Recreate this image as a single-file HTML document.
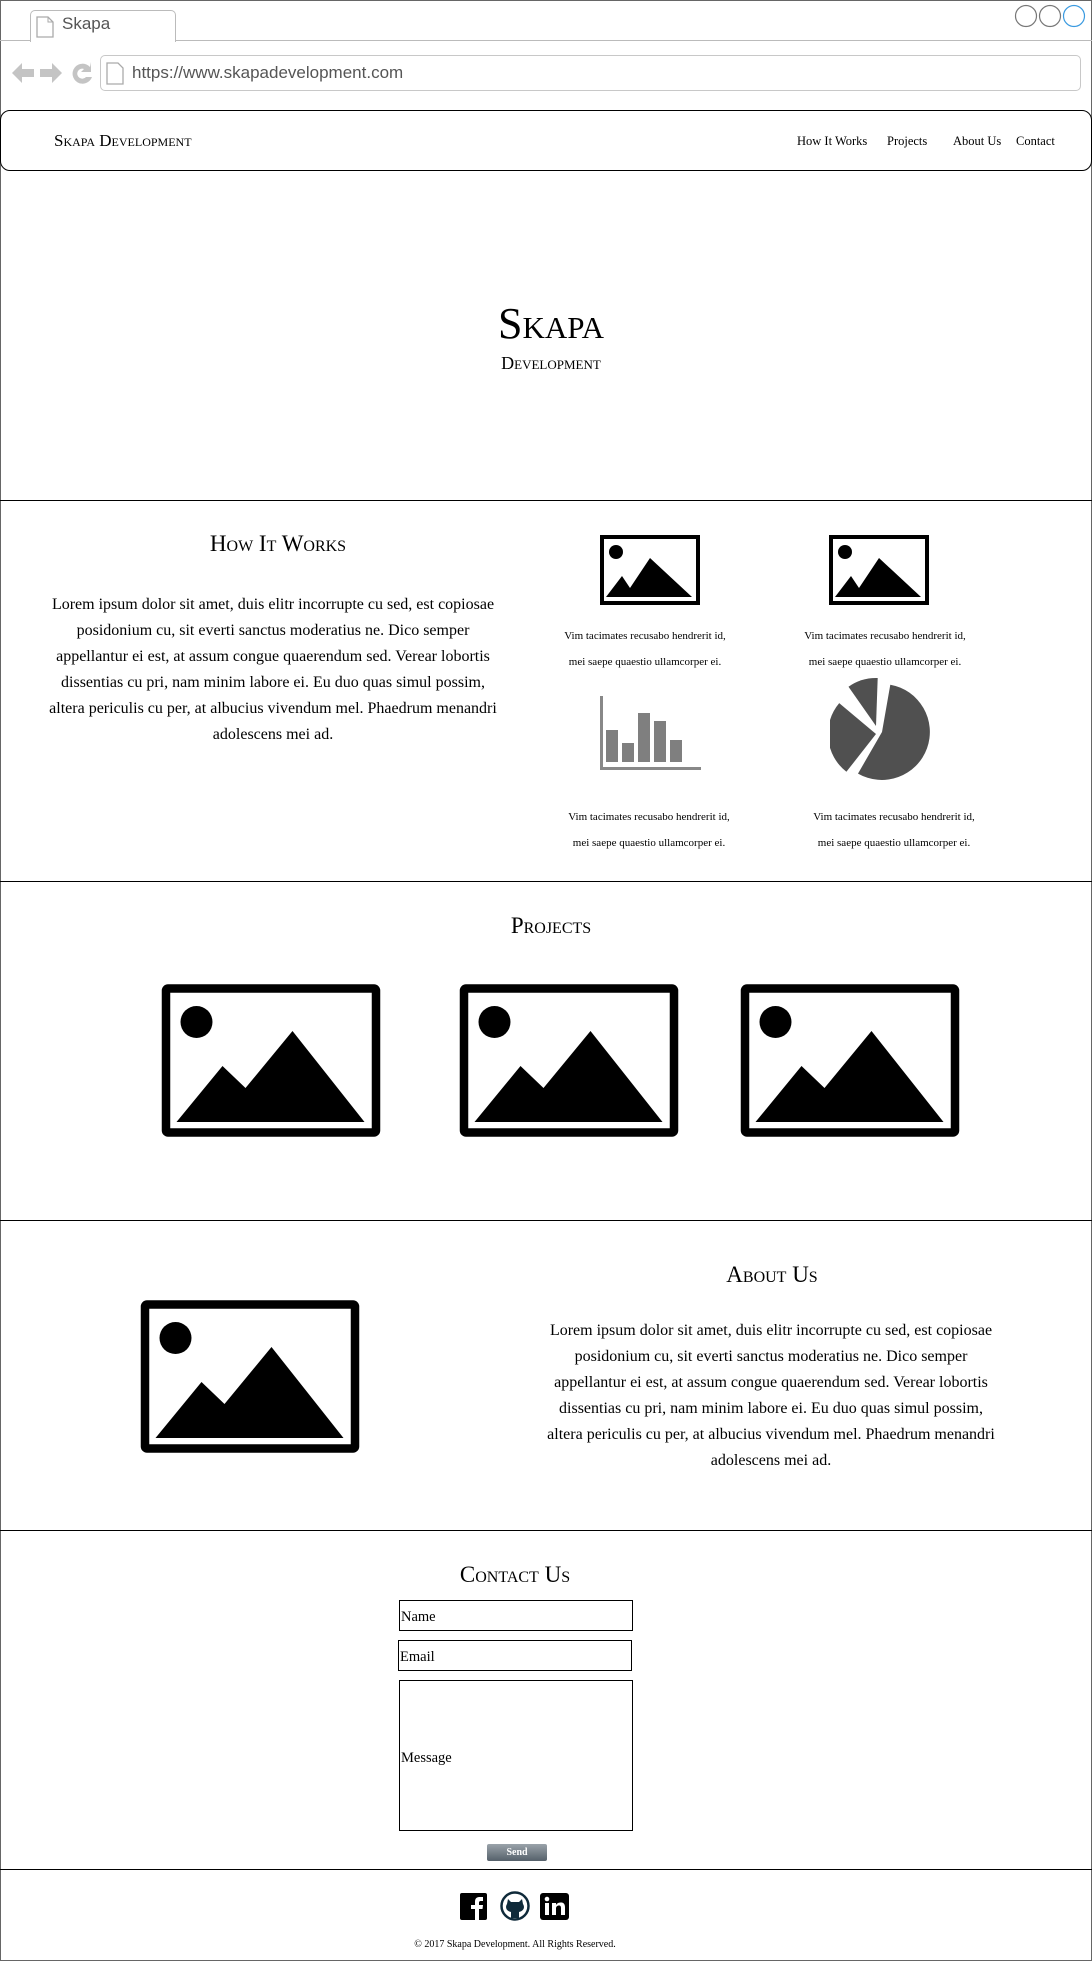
<!DOCTYPE html>
<html><head><meta charset="utf-8"><style>
*{margin:0;padding:0;box-sizing:border-box}
body{width:1092px;height:1961px;position:relative;background:#fff;font-family:"Liberation Serif",serif;color:#000;overflow:hidden}
.a{position:absolute}
.sc{font-variant:small-caps}
.c{text-align:center}
.hl{position:absolute;left:0;width:1092px;height:0;border-top:1.5px solid #000}
.cap{position:absolute;width:240px;text-align:center;font-size:11px;line-height:26px}
.para{position:absolute;text-align:center;font-size:16px;line-height:26px;white-space:nowrap}
</style></head><body>
<div class="a" style="left:0;top:0;width:1092px;height:1961px;border:1.5px solid #666"></div>
<div class="a" style="left:0;top:40px;width:1092px;border-top:1.5px solid #bbb"></div>
<div class="a" style="left:30px;top:10px;width:146px;height:32px;border:1.5px solid #bbb;border-bottom:none;border-radius:5px 5px 0 0;background:#fff"></div>
<svg class="a" style="left:36px;top:16px" width="18" height="22"><path d="M1 1h11l5 5v15H1z" fill="#fff" stroke="#aaa" stroke-width="1.3"/><path d="M12 1v5h5" fill="none" stroke="#aaa"/></svg>
<div class="a" style="left:62px;top:14px;font-family:'Liberation Sans',sans-serif;font-size:17px;color:#555">Skapa</div>
<svg class="a" style="left:1012px;top:3px" width="80" height="26"><circle cx="14" cy="13" r="10.5" fill="none" stroke="#777" stroke-width="1.2"/><circle cx="38" cy="13" r="10.5" fill="none" stroke="#777" stroke-width="1.2"/><circle cx="62" cy="13" r="10.5" fill="none" stroke="#3a9ae0" stroke-width="1.2"/></svg>
<svg class="a" style="left:10px;top:58px" width="85" height="30"><path d="M2 15l10-10v6h12v8H12v6z" fill="#c4c4c4"/><path d="M52 15L42 5v6H30v8h12v6z" fill="#c4c4c4"/><path d="M80 9a10 10 0 1 0 2 10h-6a5 5 0 1 1-2-8l-3 3h10V4z" fill="#c4c4c4"/></svg>
<div class="a" style="left:100px;top:55px;width:981px;height:36px;border:1.5px solid #c8c8c8;border-radius:5px"></div>
<svg class="a" style="left:106px;top:62px" width="18" height="23"><path d="M1 1h11l5 5v16H1z" fill="#fff" stroke="#aaa" stroke-width="1.3"/></svg>
<div class="a" style="left:132px;top:63px;font-family:'Liberation Sans',sans-serif;font-size:17px;color:#555">https://www.skapadevelopment.com</div>
<div class="a" style="left:0;top:110px;width:1092px;height:61px;border:1.5px solid #000;border-radius:10px"></div>
<div class="a sc" style="left:54px;top:131px;font-size:17px">Skapa Development</div>
<div class="a" style="left:797px;top:134px;font-size:12.5px">How It Works</div>
<div class="a" style="left:887px;top:134px;font-size:12.5px">Projects</div>
<div class="a" style="left:953px;top:134px;font-size:12.5px">About Us</div>
<div class="a" style="left:1016px;top:134px;font-size:12.5px">Contact</div>
<div class="a sc c" style="left:5px;width:1092px;top:298px;font-size:44px">Skapa</div>
<div class="a sc c" style="left:5px;width:1092px;top:353px;font-size:18px">Development</div>
<div class="hl" style="top:500px"></div>
<div class="a sc c" style="left:78px;width:400px;top:531px;font-size:23px">How It Works</div>
<div class="para" style="left:23px;width:500px;top:592px">Lorem ipsum dolor sit amet, duis elitr incorrupte cu sed, est copiosae<br>posidonium cu, sit everti sanctus moderatius ne. Dico semper<br>appellantur ei est, at assum congue quaerendum sed. Verear lobortis<br>dissentias cu pri, nam minim labore ei. Eu duo quas simul possim,<br>altera periculis cu per, at albucius vivendum mel. Phaedrum menandri<br>adolescens mei ad.</div>
<svg class="a" style="left:600px;top:535px" width="100" height="70" viewBox="0 0 100 70" preserveAspectRatio="none"><rect x="2" y="2" width="96" height="66" fill="none" stroke="#000" stroke-width="4"/><circle cx="16" cy="17" r="7"/><path d="M6 62L22 41 30 53 50 23 92 62z"/></svg>
<svg class="a" style="left:829px;top:535px" width="100" height="70" viewBox="0 0 100 70" preserveAspectRatio="none"><rect x="2" y="2" width="96" height="66" fill="none" stroke="#000" stroke-width="4"/><circle cx="16" cy="17" r="7"/><path d="M6 62L22 41 30 53 50 23 92 62z"/></svg>
<div class="cap" style="left:525px;top:623px">Vim tacimates recusabo hendrerit id,<br>mei saepe quaestio ullamcorper ei.</div>
<div class="cap" style="left:765px;top:623px">Vim tacimates recusabo hendrerit id,<br>mei saepe quaestio ullamcorper ei.</div>
<svg class="a" style="left:599px;top:696px" width="104" height="76"><rect x="1" y="0" width="3" height="74" fill="#888"/><rect x="1" y="71" width="101" height="3" fill="#888"/><rect x="7" y="34" width="12" height="32" fill="#7f7f7f"/><rect x="23" y="47" width="12" height="19" fill="#7f7f7f"/><rect x="39" y="17" width="12" height="49" fill="#7f7f7f"/><rect x="55" y="25" width="12" height="41" fill="#7f7f7f"/><rect x="71" y="44" width="12" height="22" fill="#7f7f7f"/></svg>
<svg class="a" style="left:830px;top:678px" width="104" height="104" viewBox="0 0 104 104"><g transform="translate(2,2)"><path d="M50 52L58.3 4.7A48 48 0 1 1 26 93.6Z" fill="#505050"/><path d="M44 46L16.5 6.7A48 48 0 0 1 45.7 -1.95Z" fill="#505050"/><path d="M44 54L14.4 91.8A48 48 0 0 1 7.2 23.1Z" fill="#505050"/></g></svg>
<div class="cap" style="left:529px;top:804px">Vim tacimates recusabo hendrerit id,<br>mei saepe quaestio ullamcorper ei.</div>
<div class="cap" style="left:774px;top:804px">Vim tacimates recusabo hendrerit id,<br>mei saepe quaestio ullamcorper ei.</div>
<div class="hl" style="top:881px"></div>
<div class="a sc c" style="left:0;width:1102px;top:913px;font-size:23px">Projects</div>
<svg class="a" style="left:161px;top:984px" width="220" height="153" viewBox="0 0 219 153"><rect x="4.5" y="4.5" width="210" height="144" rx="2" fill="none" stroke="#000" stroke-width="8.5"/><circle cx="35" cy="38" r="16"/><path d="M15 138L61 82 84 104 131 47 203 138z"/></svg>
<svg class="a" style="left:459px;top:984px" width="220" height="153" viewBox="0 0 219 153"><rect x="4.5" y="4.5" width="210" height="144" rx="2" fill="none" stroke="#000" stroke-width="8.5"/><circle cx="35" cy="38" r="16"/><path d="M15 138L61 82 84 104 131 47 203 138z"/></svg>
<svg class="a" style="left:740px;top:984px" width="220" height="153" viewBox="0 0 219 153"><rect x="4.5" y="4.5" width="210" height="144" rx="2" fill="none" stroke="#000" stroke-width="8.5"/><circle cx="35" cy="38" r="16"/><path d="M15 138L61 82 84 104 131 47 203 138z"/></svg>
<div class="hl" style="top:1220px"></div>
<svg class="a" style="left:140px;top:1300px" width="220" height="153" viewBox="0 0 219 153"><rect x="4.5" y="4.5" width="210" height="144" rx="2" fill="none" stroke="#000" stroke-width="8.5"/><circle cx="35" cy="38" r="16"/><path d="M15 138L61 82 84 104 131 47 203 138z"/></svg>
<div class="a sc c" style="left:572px;width:400px;top:1262px;font-size:23px">About Us</div>
<div class="para" style="left:521px;width:500px;top:1318px">Lorem ipsum dolor sit amet, duis elitr incorrupte cu sed, est copiosae<br>posidonium cu, sit everti sanctus moderatius ne. Dico semper<br>appellantur ei est, at assum congue quaerendum sed. Verear lobortis<br>dissentias cu pri, nam minim labore ei. Eu duo quas simul possim,<br>altera periculis cu per, at albucius vivendum mel. Phaedrum menandri<br>adolescens mei ad.</div>
<div class="hl" style="top:1530px"></div>
<div class="a sc c" style="left:315px;width:400px;top:1562px;font-size:23px">Contact Us</div>
<div class="a" style="left:399px;top:1600px;width:234px;height:31px;border:1.5px solid #000;font-size:14.5px;padding:8px 0 0 1px">Name</div>
<div class="a" style="left:398px;top:1640px;width:234px;height:31px;border:1.5px solid #000;font-size:14.5px;padding:8px 0 0 1px">Email</div>
<div class="a" style="left:399px;top:1680px;width:234px;height:151px;border:1.5px solid #000;font-size:14.5px;padding:69px 0 0 1px">Message</div>
<div class="a c" style="left:487px;top:1844px;width:60px;height:17px;border-radius:2px;background:linear-gradient(#9aa3aa,#55606a);color:#fff;font-size:10px;font-weight:bold;line-height:17px">Send</div>
<div class="hl" style="top:1869px"></div>
<svg class="a" style="left:460px;top:1891px" width="112" height="30"><rect x="0" y="2" width="27" height="27" rx="2"/><path d="M15 29V18h-4v-4h4v-3c0-4 2-5 5-5h3v4h-2c-1.5 0-2 .5-2 2v2h4l-.5 4H19v11z" fill="#fff"/><circle cx="55" cy="15" r="13.5" fill="none" stroke="#0f2a3a" stroke-width="2.5"/><path d="M48 8l3 3h8l3-3 1 5c2 3 1 7-4 8v6h-8v-6c-5-1-6-5-4-8z" fill="#0f2a3a"/><rect x="80" y="2" width="29" height="27" rx="3"/><rect x="85" y="12" width="4" height="12" fill="#fff"/><circle cx="87" cy="8" r="2.3" fill="#fff"/><path d="M92 12h4v2c1-2 3-2.5 5-2.5 3 0 4 2 4 5V24h-4v-7c0-1.5-.5-2.5-2-2.5s-3 1-3 3V24h-4z" fill="#fff"/></svg>
<div class="a c" style="left:315px;width:400px;top:1939px;font-size:10px">© 2017 Skapa Development. All Rights Reserved.</div>
</body></html>
